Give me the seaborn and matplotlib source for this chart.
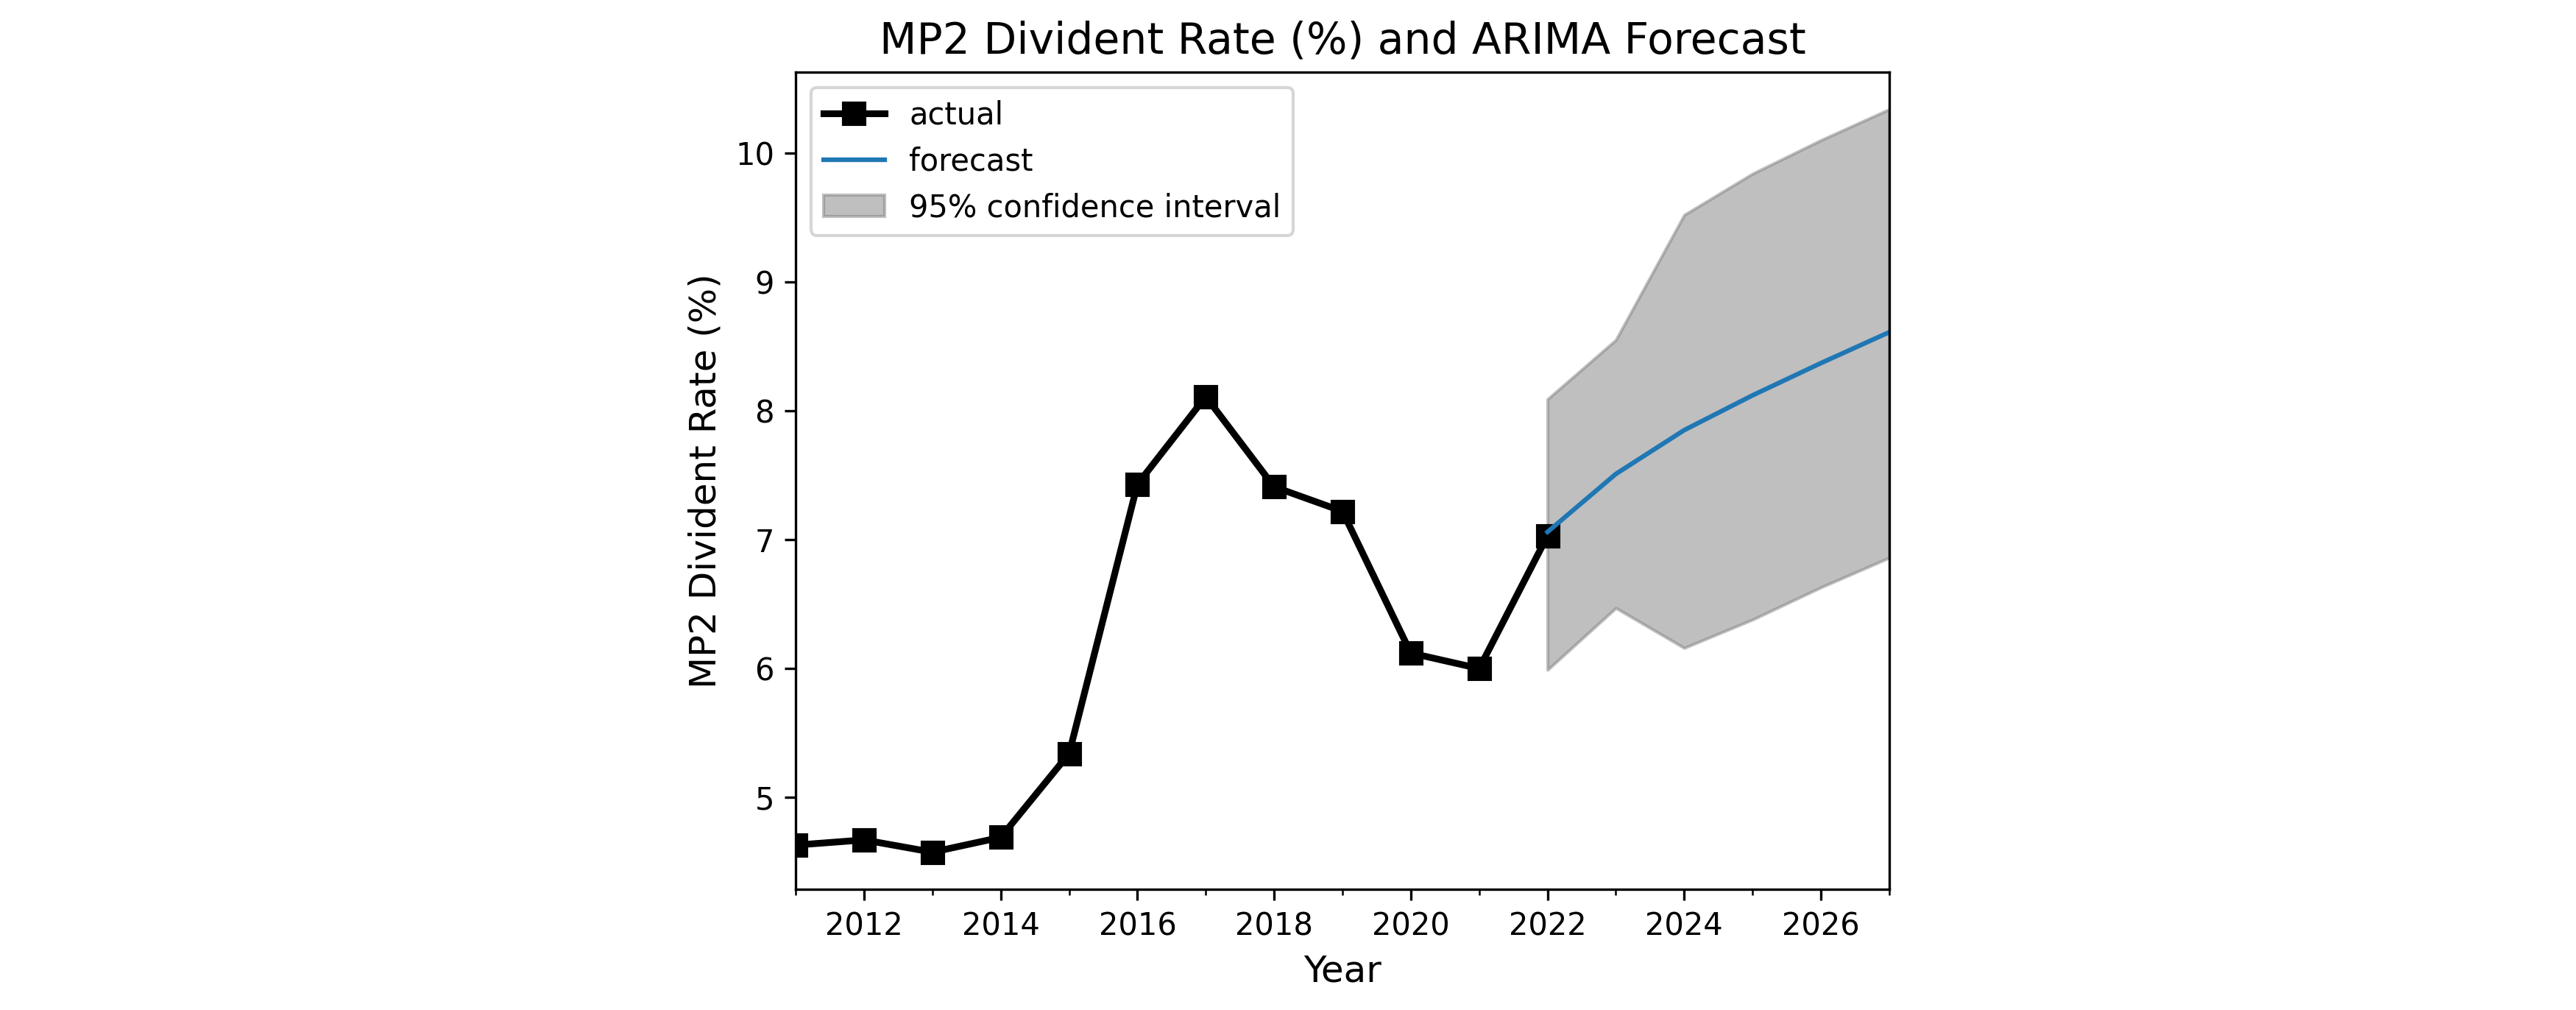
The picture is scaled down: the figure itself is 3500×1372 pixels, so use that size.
import matplotlib
matplotlib.use("Agg")
import matplotlib.pyplot as plt
from matplotlib.ticker import MultipleLocator
import seaborn as sns

# Datos
anios = [2011, 2012, 2013, 2014, 2015, 2016, 2017, 2018, 2019, 2020, 2021, 2022]
tasa_real = [4.63, 4.67, 4.575, 4.69, 5.34, 7.43, 8.11, 7.41, 7.22, 6.12, 6.00, 7.03]

anios_pron = [2022, 2023, 2024, 2025, 2026, 2027]
pronostico = [7.06, 7.51, 7.85, 8.12, 8.37, 8.61]
ic_inferior = [5.99, 6.47, 6.16, 6.38, 6.63, 6.86]
ic_superior = [8.09, 8.55, 9.52, 9.84, 10.10, 10.34]

fig = plt.figure(figsize=(3500 / 300, 1372 / 300), dpi=300)
ax = fig.add_axes([0.3089, 0.1195, 0.7334 - 0.3089, 0.9286 - 0.1195])

sns.lineplot(x=anios, y=tasa_real, ax=ax, color='k', linewidth=2.2, marker='s',
             markersize=7, markeredgecolor='k', label='actual')
sns.lineplot(x=anios_pron, y=pronostico, ax=ax, color='#1f77b4', linewidth=1.5,
             label='forecast')
ax.fill_between(anios_pron, ic_inferior, ic_superior, color='gray', alpha=.5,
                label='95% confidence interval')

ax.set_xlim(2011, 2027)
ax.xaxis.set_major_locator(MultipleLocator(2))
ax.xaxis.set_minor_locator(MultipleLocator(1))
ax.ticklabel_format(axis='x', useOffset=False)

ax.set_title('MP2 Divident Rate (%) and ARIMA Forecast', fontsize=14)
ax.set_xlabel('Year', fontsize=12)
ax.set_ylabel('MP2 Divident Rate (%)', fontsize=12)
ax.legend(loc='upper left')

fig.savefig('out.png', dpi=300)
